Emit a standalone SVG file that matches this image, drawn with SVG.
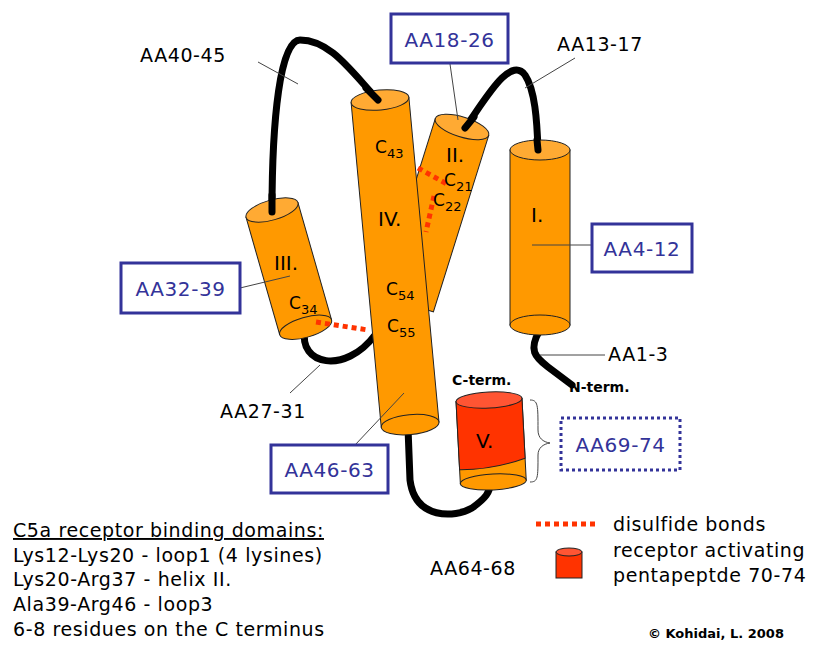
<svg xmlns="http://www.w3.org/2000/svg" width="829" height="654" viewBox="0 0 829 654">
<style>
text{font-family:"DejaVu Sans","Liberation Sans",sans-serif;fill:#000}
.lbl{font-size:19px;letter-spacing:0.6px}
.box{fill:#fff;stroke:#333399;stroke-width:3}
.bt{font-size:20px;fill:#333399;letter-spacing:0.6px}
.cyl{fill:#ff9900;stroke:#222;stroke-width:1}
.top{fill:#ffaa33;stroke:#222;stroke-width:1}
.loop{fill:none;stroke:#000;stroke-width:7;stroke-linecap:round}
.lead{stroke:#444;stroke-width:1;fill:none}
.ss{stroke:#ff3300;stroke-width:5;stroke-dasharray:5,4;fill:none}
.c{font-size:17px}
.sub{font-size:13px}
.hl{font-size:20px}
</style>
<rect width="829" height="654" fill="#fff"/>
<g id="connectors">
<path class="loop" d="M272,212 C272,120 280,40 300,40 C330,40 350,70 378,100"/>
<path class="loop" d="M465,128 C485,100 510,55 525,75 C535,90 537,120 538,150"/>
<path class="loop" d="M305,330 C298,365 345,375 375,335"/>
<path class="loop" d="M540,330 C528,350 535,357 548,367 L572,385"/>
<path class="loop" d="M408,428 L410,480 C415,520 455,518 472,508 C486,498 490,492 490,484"/>
</g>
<g id="helixII" transform="translate(462,127) rotate(17.4)">
<rect class="cyl" x="-28" y="0" width="56" height="185"/>
<ellipse class="top" cx="0" cy="0" rx="28" ry="10"/>
</g>
<g id="helixIII" transform="translate(272,210) rotate(-16)">
<rect class="cyl" x="-27" y="0" width="54" height="122"/>
<ellipse class="cyl" cx="0" cy="122" rx="27" ry="10"/>
<ellipse class="top" cx="0" cy="0" rx="27" ry="10"/>
</g>
<g id="helixIV" transform="translate(380,100) rotate(-5.3)">
<rect class="cyl" x="-29" y="0" width="58" height="326"/>
<ellipse class="cyl" cx="0" cy="326" rx="29" ry="10"/>
<ellipse class="top" cx="0" cy="0" rx="29" ry="10"/>
</g>
<g id="helixI">
<rect class="cyl" x="510" y="150" width="60" height="175"/>
<ellipse class="cyl" cx="540" cy="325" rx="30" ry="10"/>
<ellipse class="top" cx="540" cy="150" rx="30" ry="10"/>
</g>
<g id="helixV" transform="translate(489,400) rotate(-3)">
<rect x="-33" y="0" width="66" height="82" fill="#ff9900" stroke="#222"/>
<path d="M-33,0 L33,0 L33,60 Q0,70 -33,68 Z" fill="#ff3300" stroke="#222"/>
<ellipse class="cyl" cx="0" cy="82" rx="33" ry="8"/>
<ellipse cx="0" cy="0" rx="33" ry="8" fill="#ff5533" stroke="#222"/>
</g>
<g id="loops-top">
<path class="loop" d="M272,212 L272,195"/>
<path class="loop" d="M378,100 L366,88"/>
<path class="loop" d="M465,128 L474,117"/>
<path class="loop" d="M538,150 L537,140"/>
</g>
<g id="disulfide">
<path class="ss" d="M418,168 L447,184"/>
<path class="ss" d="M434,196 L426,232"/>
<path class="ss" d="M316,322 L368,330"/>
</g>
<g id="helix-labels">
<text class="hl" x="446" y="162">II.</text>
<text class="hl" x="531" y="222">I.</text>
<text class="hl" x="378" y="226">IV.</text>
<text class="hl" x="274" y="270">III.</text>
<text class="hl" x="476" y="448">V.</text>
<text class="c" x="375" y="153">C<tspan class="sub" dy="5">43</tspan></text>
<text class="c" x="444" y="186">C<tspan class="sub" dy="5">21</tspan></text>
<text class="c" x="433" y="206">C<tspan class="sub" dy="5">22</tspan></text>
<text class="c" x="386" y="295">C<tspan class="sub" dy="5">54</tspan></text>
<text class="c" x="387" y="332">C<tspan class="sub" dy="5">55</tspan></text>
<text class="c" x="289" y="309">C<tspan class="sub" dy="5">34</tspan></text>
</g>
<g id="leaders">
<path class="lead" d="M258,62 L298,84"/>
<path class="lead" d="M450,64 L458,120"/>
<path class="lead" d="M575,58 L525,88"/>
<path class="lead" d="M532,245 L592,245"/>
<path class="lead" d="M240,288 L290,276"/>
<path class="lead" d="M290,393 L320,365"/>
<path class="lead" d="M355,445 L404,393"/>
<path class="lead" d="M540,355 L605,355"/>
<path class="lead" d="M530,400 C538,400 538,405 538,430 C538,438 543,442 550,443 C543,444 538,448 538,455 C538,478 538,482 530,482"/>
</g>
<g id="labels">
<text class="lbl" x="140" y="62">AA40-45</text>
<text class="lbl" x="557" y="51">AA13-17</text>
<text class="lbl" x="608" y="361">AA1-3</text>
<text x="569" y="392" style="font-size:14px;font-weight:bold">N-term.</text>
<text x="452" y="385" style="font-size:14px;font-weight:bold">C-term.</text>
<text class="lbl" x="220" y="418">AA27-31</text>
<text class="lbl" x="430" y="575">AA64-68</text>
</g>
<g id="box1826"><rect class="box" x="391" y="14" width="117" height="49"/><text class="bt" x="449.5" y="47" text-anchor="middle">AA18-26</text></g>
<g id="box412"><rect class="box" x="592" y="224" width="100" height="48"/><text class="bt" x="642" y="256" text-anchor="middle">AA4-12</text></g>
<g id="box3239"><rect class="box" x="121" y="263" width="119" height="50"/><text class="bt" x="180.5" y="296" text-anchor="middle">AA32-39</text></g>
<g id="box4663"><rect class="box" x="271" y="445" width="117" height="48"/><text class="bt" x="329.5" y="477" text-anchor="middle">AA46-63</text></g>
<g id="box6974"><rect class="box" x="561" y="418" width="119" height="52" stroke-dasharray="3,3"/><text class="bt" x="620.5" y="452" text-anchor="middle">AA69-74</text></g>
<g id="legend">
<path class="ss" d="M536,524 L596,524"/>
<text class="lbl" x="613" y="531">disulfide bonds</text>
<rect x="556" y="552" width="26" height="26" fill="#ff3300" stroke="#222"/>
<ellipse cx="569" cy="552" rx="13" ry="4" fill="#ff5533" stroke="#222"/>
<text class="lbl" x="613" y="557">receptor activating</text>
<text class="lbl" x="613" y="582">pentapeptde 70-74</text>
<text class="lbl" x="13" y="537" text-decoration="underline">C5a receptor binding domains:</text>
<text class="lbl" x="13" y="562">Lys12-Lys20 - loop1 (4 lysines)</text>
<text class="lbl" x="13" y="586">Lys20-Arg37 - helix II.</text>
<text class="lbl" x="13" y="611">Ala39-Arg46 - loop3</text>
<text class="lbl" x="13" y="636">6-8 residues on the C terminus</text>
<text x="648" y="638" style="font-size:13px;font-weight:bold">© Kohidai, L. 2008</text>
</g>
</svg>
